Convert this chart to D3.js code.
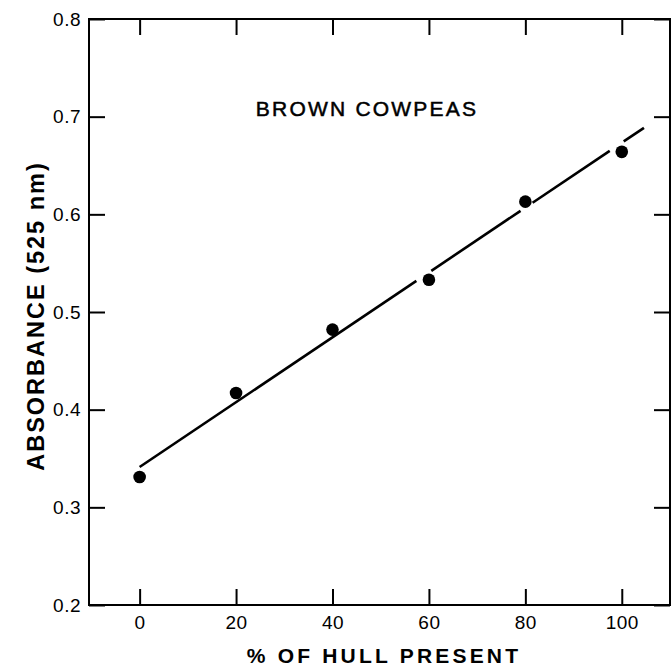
<!DOCTYPE html>
<html><head><meta charset="utf-8">
<script src="https://cdn.jsdelivr.net/npm/d3@7"></script>
<style>body{margin:0;background:#fff}svg{display:block}</style>
</head><body>
<script>
const hullPct = [0, 20, 40, 60, 80, 100];
const absorbance = [0.331, 0.417, 0.482, 0.533, 0.613, 0.664];
const xTicks = [0, 20, 40, 60, 80, 100];
const yTicks = [0.2, 0.3, 0.4, 0.5, 0.6, 0.7, 0.8];
const fitIntercept = 0.3413;
const fitSlope = 0.00332;
const fitSegments = [[0, 57.4], [60.5, 79.0], [81.5, 97.5], [100.4, 104.6]];

const W = 672, H = 670;
const svg = d3.select("body").append("svg").attr("width", W).attr("height", H);
const x = d3.scaleLinear().domain([-10.5, 110]).range([89, 670]);
const y = d3.scaleLinear().domain([0.2, 0.8]).range([605, 19]);
const font = "'Liberation Sans', Arial, sans-serif";

// frame
svg.append("rect").attr("x", x.range()[0]).attr("y", y.range()[1])
  .attr("width", x.range()[1] - x.range()[0]).attr("height", y.range()[0] - y.range()[1])
  .attr("fill", "none").attr("stroke", "#000").attr("stroke-width", 2);

const tl = 16;
const axB = svg.append("g").attr("transform", `translate(0,${y.range()[0]})`)
  .call(d3.axisBottom(x).tickValues(xTicks).tickSize(-tl).tickPadding(11).tickFormat(d3.format("d")));
const axT = svg.append("g").attr("transform", `translate(0,${y.range()[1]})`)
  .call(d3.axisTop(x).tickValues(xTicks).tickSize(-tl).tickFormat(""));
const axL = svg.append("g").attr("transform", `translate(${x.range()[0]},0)`)
  .call(d3.axisLeft(y).tickValues(yTicks).tickSize(-tl).tickPadding(8).tickFormat(d3.format(".1f")));
const axR = svg.append("g").attr("transform", `translate(${x.range()[1]},0)`)
  .call(d3.axisRight(y).tickValues(yTicks).tickSize(-tl).tickFormat(""));
[axB, axT, axL, axR].forEach(g => {
  g.attr("font-size", null).attr("font-family", null);
  g.select(".domain").remove();
  g.selectAll("line").attr("stroke", "#000").attr("stroke-width", 2);
  g.selectAll("text").style("font-family", font).style("font-size", "19px").attr("fill", "#000")
    .attr("letter-spacing", 0.5);
});

// fit line with gaps
svg.append("g").selectAll("line").data(fitSegments).join("line")
  .attr("x1", d => x(d[0])).attr("y1", d => y(fitIntercept + fitSlope * d[0]))
  .attr("x2", d => x(d[1])).attr("y2", d => y(fitIntercept + fitSlope * d[1]))
  .attr("stroke", "#000").attr("stroke-width", 2.6);

// points
svg.append("g").selectAll("circle").data(hullPct).join("circle")
  .attr("cx", d => x(d)).attr("cy", (d, i) => y(absorbance[i])).attr("r", 6.3).attr("fill", "#000");

// labels
svg.append("text").attr("x", 367).attr("y", 116).attr("text-anchor", "middle")
  .style("font-family", font).style("font-size", "21px").attr("letter-spacing", 2.2)
  .attr("stroke", "#000").attr("stroke-width", 0.5)
  .text("BROWN COWPEAS");
svg.append("text").attr("x", 384).attr("y", 663).attr("text-anchor", "middle")
  .style("font-family", font).style("font-size", "21px").attr("font-weight", "bold").attr("letter-spacing", 3.2)
  .text("% OF HULL PRESENT");
svg.append("text").attr("transform", "translate(44,316) rotate(-90)").attr("text-anchor", "middle")
  .style("font-family", font).style("font-size", "23.5px").attr("font-weight", "bold").attr("letter-spacing", 2)
  .text("ABSORBANCE (525 nm)");
</script>
</body></html>
